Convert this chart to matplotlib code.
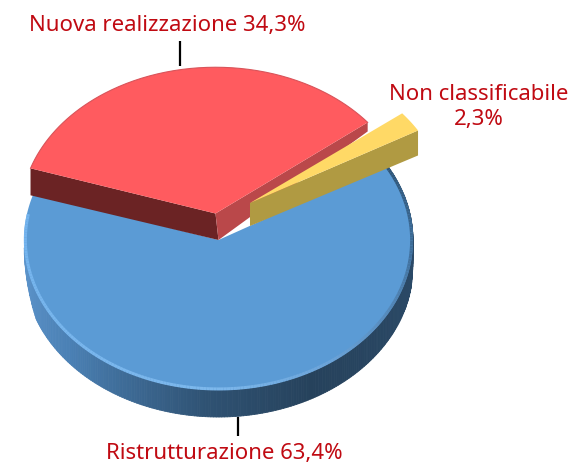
import numpy as np
import matplotlib
matplotlib.use("Agg")
import matplotlib.pyplot as plt
from matplotlib.patches import Polygon
from matplotlib.collections import PolyCollection, LineCollection
from matplotlib.colors import LinearSegmentedColormap

categories = ["Nuova realizzazione", "Non classificabile", "Ristrutturazione"]
values = [34.3, 2.3, 63.4]
value_labels = ["34,3%", "2,3%", "63,4%"]

RX, RY = 194.5, 150.0
START = 162.0
DEPTH = 27
TXT = "#C00A12"

angles = START - np.cumsum([0] + values) * 3.6
spans = {c: (angles[i], angles[i + 1]) for i, c in enumerate(categories)}
centers = {categories[0]: (215.5, 214.5), categories[1]: (250.0, 204.0), categories[2]: (218.5, 241.0)}
squash = {categories[0]: 0.975, categories[1]: 0.96, categories[2]: 1.0}


def pt(c, a, r=1.0, s=1.0):
    a = np.radians(a)
    return np.column_stack([c[0] + r * RX * np.cos(a), c[1] - s * r * RY * np.sin(a)])


def arc(c, a0, a1, s=1.0, n=200):
    return pt(c, np.linspace(a0, a1, n), s=s)


fig = plt.figure(figsize=(5.72, 4.64), dpi=100)
ax = fig.add_axes([0, 0, 1, 1])
ax.set_xlim(0, 572)
ax.set_ylim(464, 0)
ax.axis("off")

# --- blue slice ---
c = centers[categories[2]]
a0, a1 = spans[categories[2]]
side_cmap = LinearSegmentedColormap.from_list(
    "side", [(0, "#5F97CE"), (0.18, "#4A80B4"), (0.40, "#2F5273"), (0.55, "#26425C"),
             (0.85, "#2B4A68"), (1, "#2A4560")])
th = np.linspace(183, 392, 260)
polys, cols = [], []
for i in range(len(th) - 1):
    t = pt(c, np.array([th[i], th[i + 1]]))
    # side thickness fades out toward the far left and far right edges
    d = DEPTH * min(1.0, (th[i] - 178) / 22, max(0.05, (372 - th[i]) / 20))
    polys.append(np.vstack([t, t[::-1] + [0, d]]))
    cols.append(side_cmap(i / (len(th) - 2)))
ax.add_collection(PolyCollection(polys, facecolors=cols, edgecolors=cols, linewidths=0.6, zorder=1))
ax.add_patch(Polygon(np.vstack([[c], arc(c, a0, a1)]), closed=True, fc="#5B9BD5", ec="none", zorder=2))
# rim highlight
rim_cmap = LinearSegmentedColormap.from_list(
    "rim", [(0, "#74B4EE"), (0.45, "#7DB8EC"), (0.62, "#6BA3D8"), (0.85, "#3F6E9A"), (1, "#2F5577")])
th = np.linspace(170, 390, 220)
p = pt(c, th, 0.993)
segs = np.stack([p[:-1], p[1:]], axis=1)
ax.add_collection(LineCollection(segs, colors=[rim_cmap(i / (len(segs) - 1)) for i in range(len(segs))],
                                 linewidths=2.2, zorder=3))

# --- red slice ---
name = categories[0]
c = centers[name]
s = squash[name]
a0, a1 = spans[name]
left = pt(c, np.array([a0]), s=s)[0]
right = pt(c, np.array([a1]), s=s)[0]
ax.add_patch(Polygon([left, c, np.add(c, [3, DEPTH - 0.5]), left + [0, DEPTH]], closed=True,
                     fc="#6B2324", ec="none", zorder=4))
ax.add_patch(Polygon([c, right, right + [0, 9], np.add(c, [3, DEPTH - 0.5])], closed=True,
                     fc="#BA484A", ec="none", zorder=4))
ax.add_patch(Polygon(np.vstack([[c], arc(c, a0, a1, s)]), closed=True, fc="#FF5B5F", ec="none", zorder=5))
ax.plot(*arc(c, a0, a1, s).T, color="#D9545A", lw=0.8, zorder=5)

# --- yellow slice ---
name = categories[1]
c = centers[name]
s = squash[name]
a0, a1 = spans[name]
end = pt(c, np.array([a1]), s=s)[0]
ax.add_patch(Polygon([c, end, end + [0, DEPTH - 2], np.add(c, [0, 23])], closed=True,
                     fc="#B09A42", ec="none", zorder=6))
ax.add_patch(Polygon(np.vstack([[c], arc(c, a0, a1, s, 30)]), closed=True, fc="#FFD966", ec="none", zorder=7))

# --- leaders ---
ax.plot([180, 180], [42, 67], color="black", lw=1.6, zorder=8, solid_capstyle="butt")
ax.plot([238, 238], [418, 437], color="black", lw=1.6, zorder=8, solid_capstyle="butt")

# --- labels ---
fkw = dict(family="Noto Sans", fontsize=16, color=TXT, zorder=9)
ax.text(167.5, 26, f"{categories[0]} {value_labels[0]}", ha="center", va="center", **fkw)
ax.text(479, 94, categories[1], ha="center", va="center", **fkw)
ax.text(479, 120, value_labels[1], ha="center", va="center", **fkw)
ax.text(224, 454, f"{categories[2]} {value_labels[2]}", ha="center", va="center", **fkw)

fig.savefig("out.png", dpi=100)
